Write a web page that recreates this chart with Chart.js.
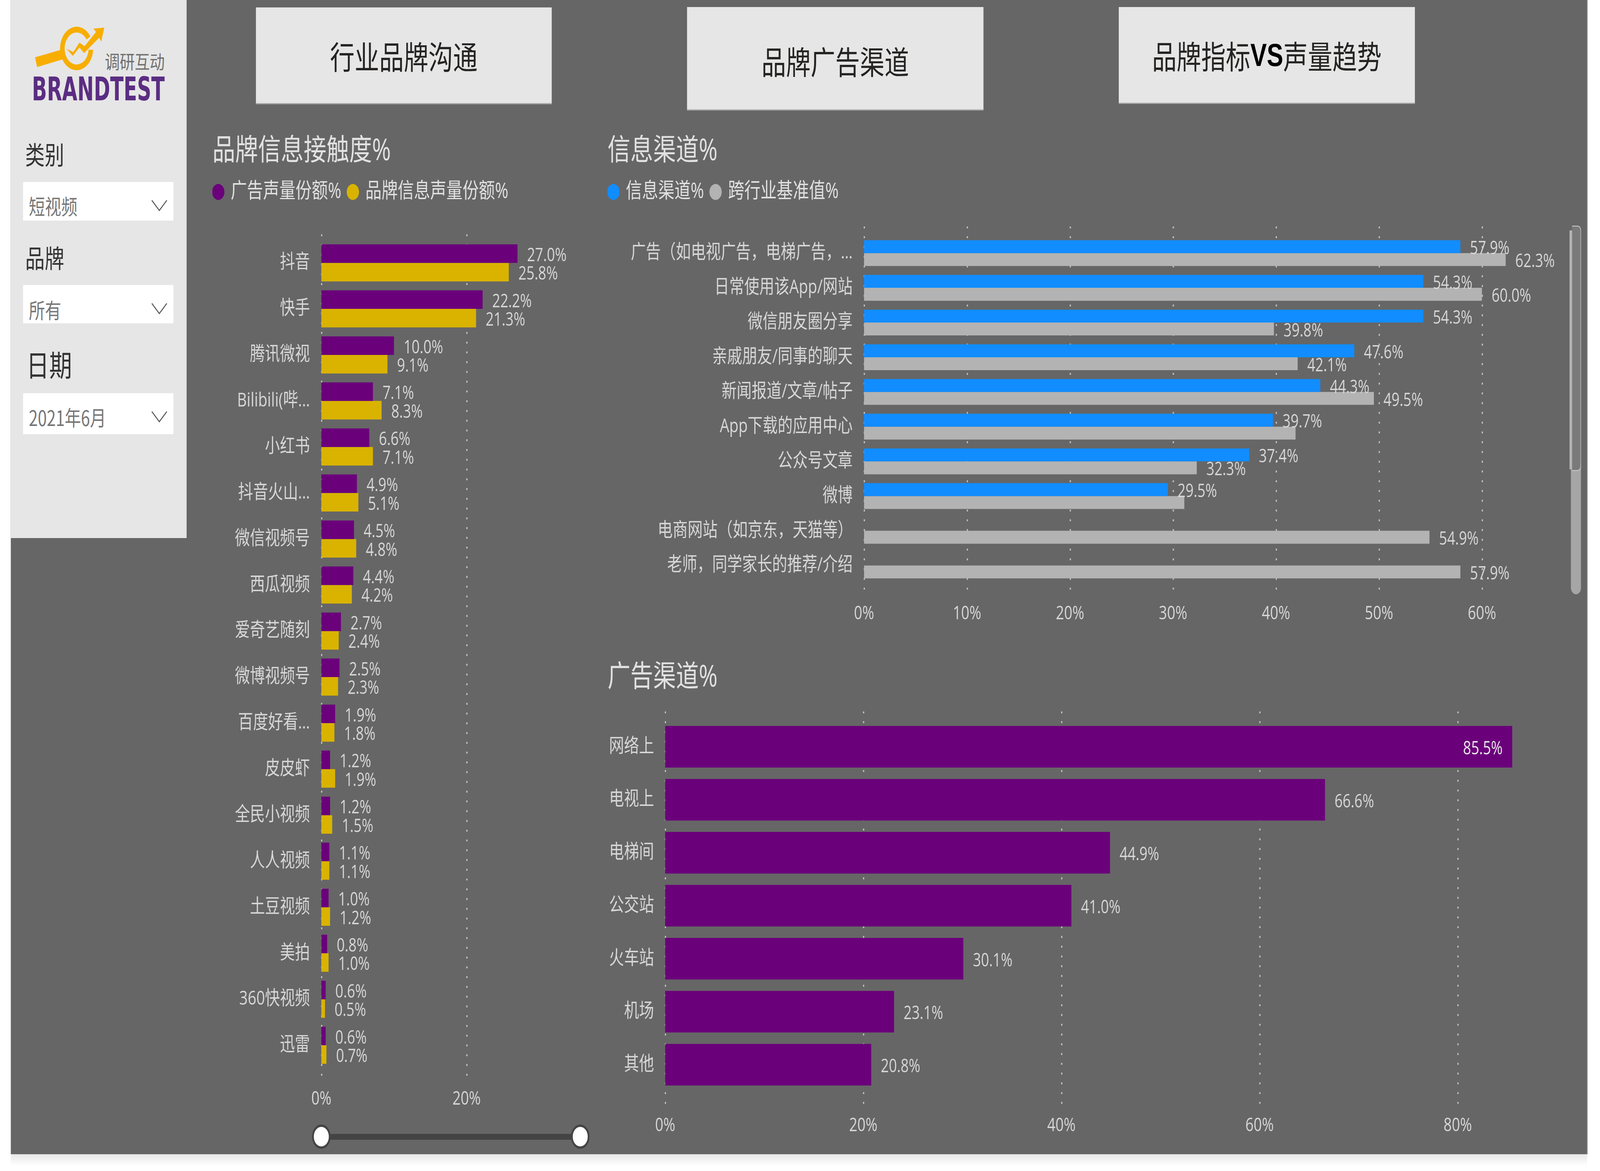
<!DOCTYPE html>
<html lang="zh">
<head>
<meta charset="utf-8">
<title>品牌信息接触度</title>
<script src="https://cdn.jsdelivr.net/npm/chart.js@4"></script>
<style>
html,body{margin:0;padding:0;background:#fff;width:100%;height:100%;overflow:hidden;font-family:"Open Sans","Noto Sans CJK SC",sans-serif}
#root{position:absolute;left:0;top:0;width:5333px;height:2999px;transform-origin:0 0;overflow:hidden}
.abs,canvas{position:absolute}
#page{position:absolute;left:36px;top:0;width:5254px;height:2956px;background:#666;border-right:3px solid #bbb}
#foot{position:absolute;left:36px;top:2956px;width:5254px;height:30px;background:linear-gradient(#e8e8e8,#fff)}
#panel{position:absolute;left:36px;top:0;width:586px;height:1378px;background:#e6e6e6}
.card{position:absolute;background:#e6e6e6;border-bottom:3px solid #aaa;color:#252423;font-size:82px;display:flex;align-items:center;justify-content:center;box-sizing:border-box;font-family:"Noto Sans CJK SC",sans-serif}
.card b{font-family:"Liberation Sans",sans-serif;font-weight:700;color:#000}
.lab{position:absolute;color:#333;font-family:"Noto Sans CJK SC",sans-serif;line-height:1;white-space:nowrap}
.drop{position:absolute;left:77px;width:501px;background:#fff}
.drop span{position:absolute;left:19px;color:#777;font-size:54px;line-height:1;white-space:nowrap;font-family:"Noto Sans CJK SC",sans-serif}
.drop svg{position:absolute;left:427px;width:54px;height:30px}
</style>
</head>
<body>
<div id="root">
<div id="page"></div>
<div id="foot"></div>
<div id="panel"></div>

<svg class="abs" style="left:60px;top:40px" width="540" height="240" viewBox="0 0 1568 720" preserveAspectRatio="none">
  <polygon fill="#F7AE00" points="165,320 420,262 435,335 185,395"/>
  <path d="M682 172 A138 145 0 1 0 705 262" fill="none" stroke="#F7AE00" stroke-width="44"/>
  <polygon fill="#F7AE00" points="470,255 535,280 595,208 645,235 755,125 730,100 835,92 805,200 785,170 640,288 595,245 530,310"/>
  <text x="840" y="408" font-size="145" fill="#707070" textLength="580" lengthAdjust="spacingAndGlyphs" font-family="Noto Sans CJK SC">调研互动</text>
  <text x="135" y="650" font-size="250" font-weight="700" fill="#5B2D82" textLength="1285" lengthAdjust="spacingAndGlyphs" font-family="DejaVu Sans">BRANDTEST</text>
</svg>

<div class="lab" style="left:84px;top:361px;font-size:65px">类别</div>
<div class="drop" style="top:466px;height:99px"><span style="top:34px">短视频</span><svg style="top:45px" viewBox="0 0 54 30"><path d="M2 2 L27 28 L52 2" fill="none" stroke="#555" stroke-width="3"/></svg></div>
<div class="lab" style="left:84px;top:626px;font-size:65px">品牌</div>
<div class="drop" style="top:730px;height:98px"><span style="top:36px">所有</span><svg style="top:45px" viewBox="0 0 54 30"><path d="M2 2 L27 28 L52 2" fill="none" stroke="#555" stroke-width="3"/></svg></div>
<div class="lab" style="left:88px;top:893px;font-size:76px">日期</div>
<div class="drop" style="top:1007px;height:105px"><span style="top:34px">2021年6月</span><svg style="top:45px" viewBox="0 0 54 30"><path d="M2 2 L27 28 L52 2" fill="none" stroke="#555" stroke-width="3"/></svg></div>

<div class="card" style="left:853px;top:19px;width:986px;height:248px">行业品牌沟通</div>
<div class="card" style="left:2290px;top:18px;width:988px;height:265px;padding-top:10px">品牌广告渠道</div>
<div class="card" style="left:3729px;top:18px;width:987px;height:248px">品牌指标<b>VS</b>声量趋势</div>

<canvas id="c1"></canvas>
<canvas id="c2"></canvas>
<canvas id="c3"></canvas>

<!-- range slider under the left chart -->
<div class="abs" style="left:1071px;top:2904px;width:863px;height:15px;background:#444"></div>
<div class="abs" style="left:1040px;top:2880px;width:50px;height:50px;border-radius:50%;background:#fff;border:6px solid #444"></div>
<div class="abs" style="left:1903px;top:2880px;width:50px;height:50px;border-radius:50%;background:#fff;border:6px solid #444"></div>

<!-- scrollbar of the channel chart -->
<div class="abs" style="left:5236px;top:1190px;width:34px;height:332px;background:#a6a6a6;border-radius:0 0 17px 17px"></div>
<div class="abs" style="left:5232px;top:590px;width:9px;height:612px;background:#b4b4b4"></div>
<div class="abs" style="left:5240px;top:578px;width:30px;height:628px;background:#7a7a7a;border:2px solid #cfcfcf;border-left:none;box-sizing:border-box;border-radius:0 12px 12px 0"></div>
</div>

<script>
/* the window may be narrower than the design width: fit the whole board to it */
document.getElementById('root').style.transform='scale('+(window.innerWidth/5333)+','+(window.innerHeight/2999)+')';

/* ---------- data ---------- */
const brandCategories = ['抖音','快手','腾讯微视','Bilibili(哔...','小红书','抖音火山...','微信视频号','西瓜视频','爱奇艺随刻','微博视频号','百度好看...','皮皮虾','全民小视频','人人视频','土豆视频','美拍','360快视频','迅雷'];
const adVoiceShare = [27.0,22.2,10.0,7.1,6.6,4.9,4.5,4.4,2.7,2.5,1.9,1.2,1.2,1.1,1.0,0.8,0.6,0.6];
const brandVoiceShare = [25.8,21.3,9.1,8.3,7.1,5.1,4.8,4.2,2.4,2.3,1.8,1.9,1.5,1.1,1.2,1.0,0.5,0.7];

const infoCategories = ['广告（如电视广告，电梯广告，...','日常使用该App/网站','微信朋友圈分享','亲戚朋友/同事的聊天','新闻报道/文章/帖子','App下载的应用中心','公众号文章','微博','电商网站（如京东，天猫等）','老师，同学家长的推荐/介绍'];
const infoChannel = [57.9,54.3,54.3,47.6,44.3,39.7,37.4,29.5,null,null];
const crossIndustry = [62.3,60.0,39.8,42.1,49.5,41.9,32.3,31.1,54.9,57.9];
const crossIndustryUnlabelled = [5,7];

const adCategories = ['网络上','电视上','电梯间','公交站','火车站','机场','其他'];
const adChannel = [85.5,66.6,44.9,41.0,30.1,23.1,20.8];

const PURPLE='#6B007B', GOLD='#D9B300', BLUE='#118DFF', GRAY='#B3B3B3';
const TEXT='#d8d8d8', TITLE='#e2e2e2';
const FAMILY='"Open Sans","Noto Sans CJK SC",sans-serif';
const pct = v => v + '%';

/* dotted vertical gridlines that run a little past the plot area */
const dottedGrid = {
  id:'dottedGrid',
  beforeDatasetsDraw(chart,_a,o){
    const c=chart.ctx, s=chart.scales.x;
    c.save(); c.strokeStyle='#c4c4c4'; c.lineWidth=4; c.setLineDash([5,20]);
    s.ticks.forEach(t=>{
      const x=s.getPixelForValue(t.value)+1;
      c.beginPath(); c.moveTo(x,o.top); c.lineTo(x,o.bottom); c.stroke();
    });
    c.restore();
  }
};

/* data labels placed from the bar elements */
const valueLabels = {
  id:'valueLabels',
  afterDatasetsDraw(chart,_a,o){
    const c=chart.ctx;
    c.save(); c.font='47px '+FAMILY; c.textBaseline='middle';
    chart.data.datasets.forEach((ds,i)=>{
      chart.getDatasetMeta(i).data.forEach((bar,j)=>{
        const v=ds.data[j];
        if(v==null || (ds.unlabelled||[]).includes(j)) return;
        const t=v.toFixed(1)+'%', w=c.measureText(t).width;
        if(bar.x+32+w>chart.chartArea.right){
          c.textAlign='right'; c.fillStyle='#ececec'; c.fillText(t,bar.x-32,bar.y+o.dy);
        }else{
          c.textAlign='left'; c.fillStyle=TEXT; c.fillText(t,bar.x+32,bar.y+o.dy);
        }
      });
    });
    c.restore();
  }
};

function makeChart(id,cfg){
  const el=document.getElementById(id);
  el.width=cfg.w; el.height=cfg.h;
  el.style.left=cfg.x+'px'; el.style.top=cfg.y+'px';
  const legendPlace={id:'legendPlace',
    beforeInit(chart){
      if(!chart.legend) return;
      const fit=chart.legend.fit;
      chart.legend.fit=function(){fit.call(this); this.height+=cfg.legendGap||0;};
    },
    afterLayout(chart){ if(chart.legend) chart.legend.left=-19; }
  };
  return new Chart(el,{
    type:'bar',
    data:{labels:cfg.labels,datasets:cfg.datasets},
    plugins:[dottedGrid,valueLabels,legendPlace],
    options:{
      indexAxis:'y',responsive:false,animation:false,devicePixelRatio:1,events:[],
      layout:{padding:0},
      datasets:{bar:{barPercentage:1,categoryPercentage:cfg.groupShare,borderWidth:0}},
      scales:{
        x:{type:'linear',min:0,max:cfg.max,position:'bottom',
           grid:{display:false,drawTicks:false},border:{display:false},
           ticks:{stepSize:cfg.step,includeBounds:false,maxRotation:0,autoSkip:false,callback:pct,color:TEXT,padding:cfg.tickPad,font:{size:48,family:FAMILY}},
           afterFit(s){s.height=cfg.xAxisH;}},
        y:{grid:{display:false,drawTicks:false},border:{display:false},
           ticks:{autoSkip:false,color:TEXT,padding:cfg.catPad,font:{size:cfg.catSize,family:FAMILY}},
           afterFit(s){s.width=cfg.yAxisW;}}
      },
      plugins:{
        title:{display:true,text:cfg.title,align:'start',color:TITLE,padding:cfg.titlePad,font:{size:76,weight:'normal',family:FAMILY,lineHeight:1.2}},
        legend:{display:!!cfg.legend,position:'top',align:'start',
          labels:{usePointStyle:true,pointStyle:'circle',boxWidth:29,boxHeight:29,padding:24,color:TITLE,font:{size:54,family:FAMILY,lineHeight:1.2}}},
        tooltip:{enabled:false},
        dottedGrid:{top:cfg.gridTop,bottom:cfg.gridBottom},
        valueLabels:{dy:cfg.labelDy}
      }
    }
  });
}

makeChart('c1',{
  x:708,y:330,w:1224,h:2530,
  labels:brandCategories,
  datasets:[
    {label:'广告声量份额%',data:adVoiceShare,backgroundColor:PURPLE},
    {label:'品牌信息声量份额%',data:brandVoiceShare,backgroundColor:GOLD}
  ],
  title:'品牌信息接触度%',legend:true,legendGap:85.6,
  titlePad:{top:12.4,bottom:7},
  max:35.56,step:20,tickPad:51,xAxisH:124,yAxisW:363,
  catPad:38,catSize:50,groupShare:0.806,labelDy:6,
  gridTop:270,gridBottom:2441
});

makeChart('c2',{
  x:2025,y:330,w:3215,h:1290,
  labels:infoCategories,
  datasets:[
    {label:'信息渠道%',data:infoChannel,backgroundColor:BLUE},
    {label:'跨行业基准值%',data:crossIndustry,backgroundColor:GRAY,unlabelled:crossIndustryUnlabelled}
  ],
  title:'信息渠道%',legend:true,legendGap:75.2,
  titlePad:{top:12.4,bottom:7},
  max:68.75,step:10,tickPad:51,xAxisH:127.4,yAxisW:855,
  catPad:38,catSize:50,groupShare:0.745,labelDy:6,
  gridTop:250,gridBottom:1193
});

makeChart('c3',{
  x:2025,y:1680,w:3164,h:1250,
  labels:adCategories,
  datasets:[{label:'广告渠道%',data:adChannel,backgroundColor:PURPLE}],
  title:'广告渠道%',legend:false,
  titlePad:{top:10.4,bottom:63},
  max:90,step:20,tickPad:60,xAxisH:135.4,yAxisW:192,
  catPad:37,catSize:50,groupShare:0.785,labelDy:6,
  gridTop:142,gridBottom:1157
});
</script>
</body>
</html>
